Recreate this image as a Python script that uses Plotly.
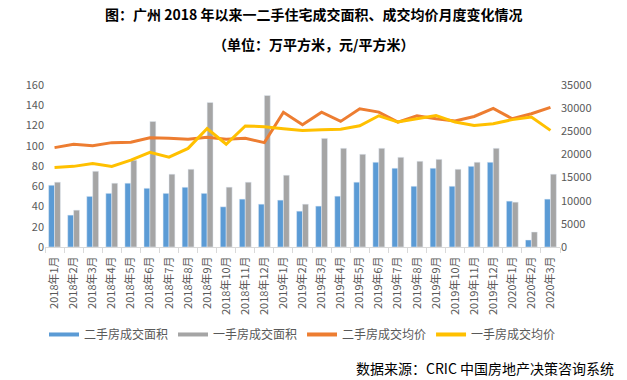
import plotly.graph_objects as go

months = ["2018年1月", "2018年2月", "2018年3月", "2018年4月", "2018年5月", "2018年6月",
          "2018年7月", "2018年8月", "2018年9月", "2018年10月", "2018年11月", "2018年12月",
          "2019年1月", "2019年2月", "2019年3月", "2019年4月", "2019年5月", "2019年6月",
          "2019年7月", "2019年8月", "2019年9月", "2019年10月", "2019年11月", "2019年12月",
          "2020年1月", "2020年2月", "2020年3月"]

second_area = [61, 31.5, 50, 53, 63, 58, 53, 59, 53, 39.7, 47.3, 42.3, 46.3, 35.4, 40.4,
               50.2, 64, 83.7, 77.8, 60, 77.8, 60, 79.7, 83.7, 45.3, 6.9, 47.3]
first_area = [64, 36.4, 74.8, 63, 85.7, 124, 71.9, 76.8, 142.8, 59.1, 64, 149.7, 70.9, 42.3,
              107.3, 97.5, 91.6, 97.5, 88.6, 84.7, 86.6, 76.8, 83.7, 97.5, 44.3, 14.8, 71.9]
second_price = [21470, 22190, 21900, 22550, 22620, 23620, 23500, 23260, 23700, 23260, 23480,
                22550, 29120, 26420, 29120, 27140, 29870, 29150, 26990, 28350, 27700, 27210,
                28200, 29950, 27720, 28790, 30150]
first_price = [17160, 17420, 18020, 17420, 18760, 20440, 19400, 21300, 25600, 22200, 26150,
               26000, 25550, 25150, 25350, 25450, 26200, 28350, 26990, 27700, 28420, 26990,
               26270, 26630, 27520, 28060, 25200]

names = ["二手房成交面积", "一手房成交面积", "二手房成交均价", "一手房成交均价"]
colors = ["#5B9BD5", "#A5A5A5", "#ED7D31", "#FFC000"]

FONT = "Noto Sans CJK SC"
fig = go.Figure()
fig.add_trace(go.Bar(x=months, y=second_area, name=names[0], marker_color=colors[0],
                     showlegend=False))
fig.add_trace(go.Bar(x=months, y=first_area, name=names[1], marker_color=colors[1],
                     showlegend=False))
fig.add_trace(go.Scatter(x=months, y=second_price, name=names[2], yaxis="y2", mode="lines",
                         line=dict(color=colors[2], width=3), showlegend=False))
fig.add_trace(go.Scatter(x=months, y=first_price, name=names[3], yaxis="y2", mode="lines",
                         line=dict(color=colors[3], width=3), showlegend=False))
# legend entries drawn as line swatches (as in the original)
for n, c in zip(names, colors):
    fig.add_trace(go.Scatter(x=[None], y=[None], name=n, mode="lines",
                             line=dict(color=c, width=4), showlegend=True))

fig.update_layout(
    width=627, height=380,
    margin=dict(l=45, r=67, t=84.5, b=133, autoexpand=False),
    paper_bgcolor="white", plot_bgcolor="white",
    font=dict(family=FONT, size=11, color="#595959"),
    barmode="group", bargap=0.38, bargroupgap=0,
    showlegend=True,
    legend=dict(orientation="h", x=0.5, xanchor="center", y=-0.54, yanchor="middle",
                font=dict(size=12, color="#595959"), itemwidth=30,
                tracegroupgap=0, bgcolor="rgba(0,0,0,0)"),
    xaxis=dict(type="category", tickangle=-90, showgrid=False, showline=True,
               linecolor="#D9D9D9", linewidth=1, ticks="outside", tickson="boundaries",
               ticklen=5, tickcolor="#D9D9D9", tickfont=dict(size=11, color="#595959"),
               ticklabelstandoff=4,
               range=[-0.5, len(months) - 0.5], automargin=False),
    yaxis=dict(range=[0, 160], dtick=20, showgrid=False, zeroline=False, showline=False,
               tickfont=dict(size=11, color="#595959"), automargin=False),
    yaxis2=dict(range=[0, 35000], dtick=5000, tickformat="d", overlaying="y", side="right",
                showgrid=False, zeroline=False, showline=False,
                tickfont=dict(size=11, color="#595959"), automargin=False),
    annotations=[
        dict(text="<b>图：广州 2018 年以来一二手住宅成交面积、成交均价月度变化情况</b>",
             xref="paper", yref="paper", x=0.521, y=1.44, xanchor="center", yanchor="middle",
             showarrow=False, font=dict(size=14, color="black", family=FONT)),
        dict(text="<b>（单位：万平方米，元/平方米）</b>",
             xref="paper", yref="paper", x=0.521, y=1.255, xanchor="center", yanchor="middle",
             showarrow=False, font=dict(size=14, color="black", family=FONT)),
        dict(text="数据来源：CRIC 中国房地产决策咨询系统",
             xref="paper", yref="paper", x=1.109, y=-0.745, xanchor="right", yanchor="middle",
             showarrow=False, font=dict(size=14, color="black", family=FONT)),
    ],
)

fig.write_html("out.html", config={"displayModeBar": False},
               post_script="document.body.style.margin='0';document.body.style.overflow='hidden';")
